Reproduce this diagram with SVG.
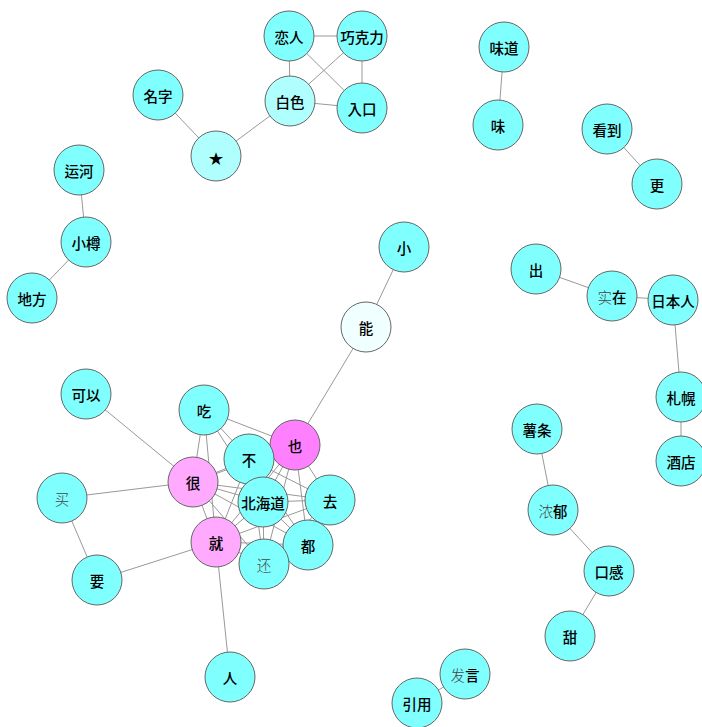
<svg xmlns="http://www.w3.org/2000/svg" width="702" height="727" viewBox="0 0 702 727">
<style>
.e line{stroke:#999;stroke-width:1}
circle{stroke:#666;stroke-width:1;fill:#80ffff}
.l2{fill:#b0ffff}
.l3{fill:#f0ffff}
.m1{fill:#ff80ff}
.m2{fill:#ffaaff}
text{font-family:"Noto Sans CJK JP","Noto Sans CJK SC",sans-serif;font-size:14.5px;font-weight:500;fill:#000;text-anchor:middle;dominant-baseline:central}
.fb{font-weight:300;fill:#444}
</style>
<rect width="702" height="727" fill="#fff"/>
<g class="e" id="edges">
<line x1="289" y1="36" x2="362" y2="36"/>
<line x1="289" y1="36" x2="290" y2="101"/>
<line x1="289" y1="36" x2="362" y2="108"/>
<line x1="362" y1="36" x2="290" y2="101"/>
<line x1="362" y1="36" x2="362" y2="108"/>
<line x1="290" y1="101" x2="362" y2="108"/>
<line x1="290" y1="101" x2="216" y2="156"/>
<line x1="216" y1="156" x2="158" y2="95"/>
<line x1="504" y1="47" x2="498" y2="125"/>
<line x1="607" y1="129" x2="657" y2="184"/>
<line x1="79" y1="170" x2="86" y2="242"/>
<line x1="86" y1="242" x2="32" y2="298"/>
<line x1="404" y1="247" x2="366" y2="327"/>
<line x1="366" y1="327" x2="295" y2="445"/>
<line x1="536" y1="269" x2="612" y2="296"/>
<line x1="612" y1="296" x2="673" y2="300"/>
<line x1="673" y1="300" x2="681" y2="397"/>
<line x1="681" y1="397" x2="681" y2="461"/>
<line x1="537" y1="429" x2="553" y2="510"/>
<line x1="553" y1="510" x2="609" y2="571"/>
<line x1="609" y1="571" x2="570" y2="636"/>
<line x1="465" y1="674" x2="417" y2="703"/>
<line x1="86" y1="394" x2="193" y2="482"/>
<line x1="62" y1="498" x2="193" y2="482"/>
<line x1="62" y1="498" x2="97" y2="580"/>
<line x1="97" y1="580" x2="216" y2="542"/>
<line x1="216" y1="542" x2="230" y2="677"/>
<line x1="204" y1="410" x2="193" y2="482"/>
<line x1="204" y1="410" x2="216" y2="542"/>
<line x1="204" y1="410" x2="249" y2="459"/>
<line x1="204" y1="410" x2="263" y2="502"/>
<line x1="204" y1="410" x2="295" y2="445"/>
<line x1="295" y1="445" x2="249" y2="459"/>
<line x1="295" y1="445" x2="193" y2="482"/>
<line x1="295" y1="445" x2="263" y2="502"/>
<line x1="295" y1="445" x2="330" y2="500"/>
<line x1="295" y1="445" x2="216" y2="542"/>
<line x1="295" y1="445" x2="308" y2="545"/>
<line x1="295" y1="445" x2="264" y2="564"/>
<line x1="249" y1="459" x2="193" y2="482"/>
<line x1="249" y1="459" x2="263" y2="502"/>
<line x1="249" y1="459" x2="330" y2="500"/>
<line x1="249" y1="459" x2="216" y2="542"/>
<line x1="249" y1="459" x2="308" y2="545"/>
<line x1="249" y1="459" x2="264" y2="564"/>
<line x1="193" y1="482" x2="263" y2="502"/>
<line x1="193" y1="482" x2="330" y2="500"/>
<line x1="193" y1="482" x2="216" y2="542"/>
<line x1="193" y1="482" x2="308" y2="545"/>
<line x1="193" y1="482" x2="264" y2="564"/>
<line x1="263" y1="502" x2="330" y2="500"/>
<line x1="263" y1="502" x2="216" y2="542"/>
<line x1="263" y1="502" x2="308" y2="545"/>
<line x1="263" y1="502" x2="264" y2="564"/>
<line x1="330" y1="500" x2="216" y2="542"/>
<line x1="330" y1="500" x2="308" y2="545"/>
<line x1="330" y1="500" x2="264" y2="564"/>
<line x1="216" y1="542" x2="308" y2="545"/>
<line x1="216" y1="542" x2="264" y2="564"/>
<line x1="308" y1="545" x2="264" y2="564"/>
</g>
<g id="n-lianren"><circle cx="289" cy="36" r="25"/><text x="289" y="36">恋人</text></g>
<g id="n-qiaokeli"><circle cx="362" cy="36" r="25"/><text x="362" y="36">巧克力</text></g>
<g id="n-baise"><circle class="l2" cx="290" cy="101" r="25"/><text x="290" y="101">白色</text></g>
<g id="n-rukou"><circle cx="362" cy="108" r="25"/><text x="362" y="108">入口</text></g>
<g id="n-mingzi"><circle cx="158" cy="95" r="25"/><text x="158" y="95">名字</text></g>
<g id="n-star"><circle class="l2" cx="216" cy="156" r="25"/><text x="216" y="157">★</text></g>
<g id="n-weidao"><circle cx="504" cy="47" r="25"/><text x="504" y="47">味道</text></g>
<g id="n-wei"><circle cx="498" cy="125" r="25"/><text x="498" y="125">味</text></g>
<g id="n-kandao"><circle cx="607" cy="129" r="25"/><text x="607" y="129">看到</text></g>
<g id="n-geng"><circle cx="657" cy="184" r="25"/><text x="657" y="184">更</text></g>
<g id="n-yunhe"><circle cx="79" cy="170" r="25"/><text x="79" y="170">运河</text></g>
<g id="n-xiaozun"><circle cx="86" cy="242" r="25"/><text x="86" y="242">小樽</text></g>
<g id="n-difang"><circle cx="32" cy="298" r="25"/><text x="32" y="298">地方</text></g>
<g id="n-xiao"><circle cx="404" cy="247" r="25"/><text x="404" y="247">小</text></g>
<g id="n-neng"><circle class="l3" cx="366" cy="327" r="25"/><text x="366" y="327">能</text></g>
<g id="n-chu"><circle cx="536" cy="269" r="25"/><text x="536" y="269">出</text></g>
<g id="n-shizai"><circle cx="612" cy="296" r="25"/><text x="612" y="296"><tspan class="fb">实</tspan>在</text></g>
<g id="n-ribenren"><circle cx="673" cy="300" r="25"/><text x="673" y="300">日本人</text></g>
<g id="n-zhahuang"><circle cx="681" cy="397" r="25"/><text x="681" y="397">札幌</text></g>
<g id="n-jiudian"><circle cx="681" cy="461" r="25"/><text x="681" y="461">酒店</text></g>
<g id="n-keyi"><circle cx="86" cy="394" r="25"/><text x="86" y="394">可以</text></g>
<g id="n-chi"><circle cx="204" cy="410" r="25"/><text x="204" y="410">吃</text></g>
<g id="n-ye"><circle class="m1" cx="295" cy="445" r="25"/><text x="295" y="445">也</text></g>
<g id="n-bu"><circle cx="249" cy="459" r="25"/><text x="249" y="459">不</text></g>
<g id="n-hen"><circle class="m2" cx="193" cy="482" r="25"/><text x="193" y="482">很</text></g>
<g id="n-mai"><circle cx="62" cy="498" r="25"/><text x="62" y="498"><tspan class="fb">买</tspan></text></g>
<g id="n-beihaidao"><circle cx="263" cy="502" r="25"/><text x="263" y="502">北海道</text></g>
<g id="n-qu"><circle cx="330" cy="500" r="25"/><text x="330" y="500">去</text></g>
<g id="n-jiu"><circle class="m2" cx="216" cy="542" r="25"/><text x="216" y="542">就</text></g>
<g id="n-dou"><circle cx="308" cy="545" r="25"/><text x="308" y="545">都</text></g>
<g id="n-hai"><circle cx="264" cy="564" r="25"/><text x="264" y="564"><tspan class="fb">还</tspan></text></g>
<g id="n-yao"><circle cx="97" cy="580" r="25"/><text x="97" y="580">要</text></g>
<g id="n-ren"><circle cx="230" cy="677" r="25"/><text x="230" y="677">人</text></g>
<g id="n-shutiao"><circle cx="537" cy="429" r="25"/><text x="537" y="429">薯条</text></g>
<g id="n-nongyu"><circle cx="553" cy="510" r="25"/><text x="553" y="510"><tspan class="fb">浓</tspan>郁</text></g>
<g id="n-kougan"><circle cx="609" cy="571" r="25"/><text x="609" y="571">口感</text></g>
<g id="n-tian"><circle cx="570" cy="636" r="25"/><text x="570" y="636">甜</text></g>
<g id="n-fayan"><circle cx="465" cy="674" r="25"/><text x="465" y="674"><tspan class="fb">发</tspan>言</text></g>
<g id="n-yinyong"><circle cx="417" cy="703" r="25"/><text x="417" y="703">引用</text></g>
</svg>
